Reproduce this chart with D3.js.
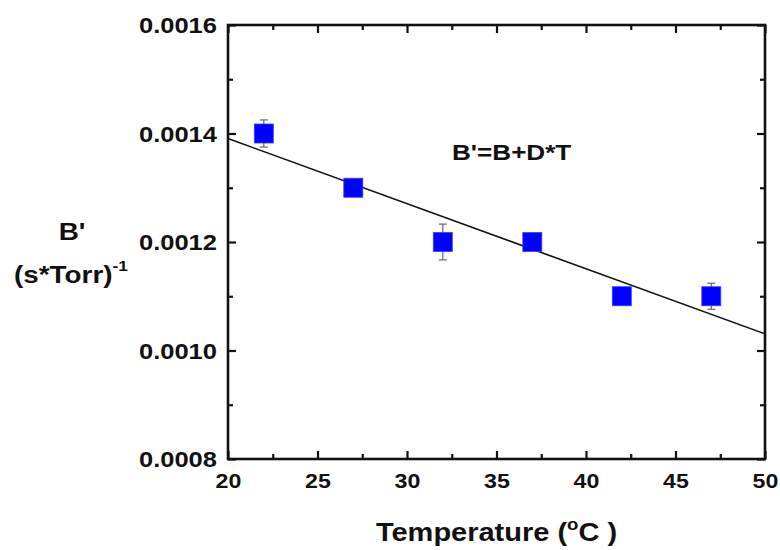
<!DOCTYPE html>
<html>
<head>
<meta charset="utf-8">
<script src="https://cdn.jsdelivr.net/npm/d3@7"></script>
<style>
  html, body { margin: 0; padding: 0; background: #fff; }
  svg { display: block; }
  text { font-family: "Liberation Sans", Arial, sans-serif; font-weight: bold; fill: #111; }
</style>
</head>
<body>
<svg id="chart" width="780" height="550"></svg>
<script>
// Measured B' values versus temperature, with their error bars
const temperatures = [22, 27, 32, 37, 42, 47];
const bPrime = [0.00140, 0.00130, 0.00120, 0.00120, 0.00110, 0.00110];
const bPrimeErr = [0.000025, 0.000005, 0.000033, 0.000005, 0.000005, 0.000024];

const xTicks = [20, 25, 30, 35, 40, 45, 50];
const yTicks = [0.0008, 0.0010, 0.0012, 0.0014, 0.0016];
const xMinor = [22.5, 27.5, 32.5, 37.5, 42.5, 47.5];
const yMinor = [0.0009, 0.0011, 0.0013, 0.0015];

const W = 780, H = 550;
const plot = { left: 228, right: 765, top: 25, bottom: 459 };
const SX = 1.16; // horizontal stretch applied to all lettering

const svg = d3.select("#chart");
svg.append("rect").attr("width", W).attr("height", H).attr("fill", "#fff");

const x = d3.scaleLinear().domain([20, 50]).range([plot.left, plot.right]);
const y = d3.scaleLinear().domain([0.0008, 0.0016]).range([plot.bottom, plot.top]);

// Text helper: positions a stretched label at (px, py)
function label(px, py, anchor, size) {
  return svg.append("g")
    .attr("transform", `translate(${px},${py}) scale(${SX},1)`)
    .append("text")
    .attr("text-anchor", anchor)
    .style("font-size", size + "px");
}

function styleAxis(g) {
  g.select(".domain").remove();
  g.selectAll(".tick line").attr("stroke", "#111").attr("stroke-width", 2.2);
}

// Bottom axis (labelled) and minor ticks
const gx = svg.append("g").attr("transform", `translate(0,${plot.bottom})`)
  .call(d3.axisBottom(x).tickValues(xTicks).tickSize(-8).tickPadding(0).tickFormat(d3.format("d")));
styleAxis(gx);
gx.selectAll(".tick text")
  .attr("y", 29).attr("dy", 0)
  .attr("transform", `scale(${SX},1)`)
  .style("font-size", "20px").attr("fill", "#111");
svg.append("g").attr("transform", `translate(0,${plot.bottom})`)
  .call(d3.axisBottom(x).tickValues(xMinor).tickSize(-5).tickFormat(""))
  .call(styleAxis);

// Top axis (ticks only)
svg.append("g").attr("transform", `translate(0,${plot.top})`)
  .call(d3.axisTop(x).tickValues(xTicks).tickSize(-8).tickFormat(""))
  .call(styleAxis);
svg.append("g").attr("transform", `translate(0,${plot.top})`)
  .call(d3.axisTop(x).tickValues(xMinor).tickSize(-5).tickFormat(""))
  .call(styleAxis);

// Left axis (labelled)
const gy = svg.append("g").attr("transform", `translate(${plot.left},0)`)
  .call(d3.axisLeft(y).tickValues(yTicks).tickSize(-8).tickPadding(0).tickFormat(d3.format(".4f")));
styleAxis(gy);
gy.selectAll(".tick text")
  .attr("x", -11 / SX).attr("dy", "0.36em")
  .attr("transform", `scale(${SX},1)`)
  .style("font-size", "22px").attr("fill", "#111");
svg.append("g").attr("transform", `translate(${plot.left},0)`)
  .call(d3.axisLeft(y).tickValues(yMinor).tickSize(-5).tickFormat(""))
  .call(styleAxis);

// Right axis (ticks only)
svg.append("g").attr("transform", `translate(${plot.right},0)`)
  .call(d3.axisRight(y).tickValues(yTicks).tickSize(-8).tickFormat(""))
  .call(styleAxis);
svg.append("g").attr("transform", `translate(${plot.right},0)`)
  .call(d3.axisRight(y).tickValues(yMinor).tickSize(-5).tickFormat(""))
  .call(styleAxis);

// Linear least-squares fit B' = B + D*T
const mx = d3.mean(temperatures), my = d3.mean(bPrime);
const sxy = d3.sum(temperatures, (t, i) => (t - mx) * (bPrime[i] - my));
const sxx = d3.sum(temperatures, t => (t - mx) ** 2);
const D = sxy / sxx, B = my - D * mx;
const fitDomain = x.domain();
svg.append("path")
  .datum(fitDomain.map(t => [t, B + D * t]))
  .attr("d", d3.line().x(d => x(d[0])).y(d => y(d[1])))
  .attr("fill", "none").attr("stroke", "#111").attr("stroke-width", 1.6);

// Error bars
const pts = temperatures.map((t, i) => ({ t, v: bPrime[i], e: bPrimeErr[i] }));
const eb = svg.append("g").attr("stroke", "#666").attr("stroke-width", 1.2);
pts.forEach(p => {
  const cx = x(p.t), y1 = y(p.v + p.e), y2 = y(p.v - p.e);
  eb.append("line").attr("x1", cx).attr("x2", cx).attr("y1", y1).attr("y2", y2);
  eb.append("line").attr("x1", cx - 4).attr("x2", cx + 4).attr("y1", y1).attr("y2", y1);
  eb.append("line").attr("x1", cx - 4).attr("x2", cx + 4).attr("y1", y2).attr("y2", y2);
});

// Square markers
const S = 19;
svg.append("g").selectAll("rect").data(pts).join("rect")
  .attr("x", d => x(d.t) - S / 2).attr("y", d => y(d.v) - S / 2)
  .attr("width", S).attr("height", S)
  .attr("fill", "#0000ff").attr("stroke", "#3a3aff").attr("stroke-width", 0.8);

// Plot frame
svg.append("rect")
  .attr("x", plot.left).attr("y", plot.top)
  .attr("width", plot.right - plot.left).attr("height", plot.bottom - plot.top)
  .attr("fill", "none").attr("stroke", "#111").attr("stroke-width", 2.6);

// Fit equation
label(452, 160, "start", 22.5).text("B'=B+D*T");

// Axis titles
const xt = label((plot.left + plot.right) / 2, 541, "middle", 25);
xt.append("tspan").text("Temperature (");
xt.append("tspan").attr("dy", -11).style("font-size", "16px").text("o");
xt.append("tspan").attr("dy", 11).text("C )");

label(72, 240, "middle", 24).text("B'");
const yt = label(71, 283, "middle", 24);
yt.append("tspan").text("(s*Torr)");
yt.append("tspan").attr("dy", -12).style("font-size", "15px").text("-1");
</script>
</body>
</html>
